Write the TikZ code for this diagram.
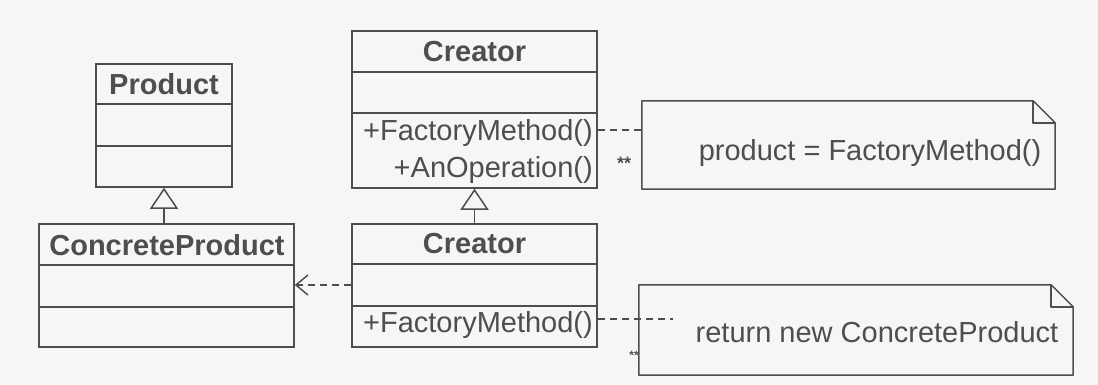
\documentclass[tikz,border=0pt]{standalone}
\usepackage{fontspec}
\setmainfont{Liberation Sans}
\usetikzlibrary{arrows.meta}
\definecolor{ink}{HTML}{4E4E4E}
\definecolor{bg}{HTML}{F6F6F4}
\begin{document}
\begin{tikzpicture}[x=1pt,y=-1pt,
  ln/.style={draw=ink, line width=1.5pt},
  cls/.style={ln, rectangle, inner sep=0pt, minimum width=#1},
  notebox/.style={rectangle, draw=none, inner sep=0pt, minimum width=#1},
  title/.style={text=ink, font=\fontsize{29pt}{34pt}\selectfont\bfseries, inner sep=0pt},
  op/.style={text=ink, font=\fontsize{29pt}{34pt}\selectfont, inner sep=0pt, anchor=east},
  ntxt/.style={text=ink, font=\fontsize{29pt}{34pt}\selectfont, inner sep=0pt},
  star/.style={text=ink, font=\fontsize{#1}{#1}\selectfont\bfseries, inner sep=0pt},
  gen/.style={ln, -{Triangle[open, length=21pt, width=28pt, line width=1.5pt]}},
  dep/.style={draw=ink, line width=1.5pt, dash pattern=on 7pt off 5pt, -{Straight Barb[length=12pt, width=20pt, line width=1.5pt]}},
  dsh/.style={draw=ink, line width=1.5pt, dash pattern=on 7pt off 5pt}
]
\fill[bg] (0,0) rectangle (1098,385);
\useasboundingbox (0,0) rectangle (1098,385);

% Product
\node[cls=136pt, minimum height=123pt] (product) at (164,125.5) {};
\draw[ln] (product.west |- 0,104) -- (product.east |- 0,104);
\draw[ln] (product.west |- 0,146) -- (product.east |- 0,146);
\node[title] (ptitle) at (164,84) {Product};

% ConcreteProduct
\node[cls=255pt, minimum height=123pt] (concrete) at (166.5,285.5) {};
\draw[ln] (concrete.west |- 0,265) -- (concrete.east |- 0,265);
\draw[ln] (concrete.west |- 0,307) -- (concrete.east |- 0,307);
\node[title] (cptitle) at (167,245) {ConcreteProduct};

% Creator (top)
\node[cls=245pt, minimum height=157pt] (creatorA) at (474.5,109.5) {};
\draw[ln] (creatorA.west |- 0,72) -- (creatorA.east |- 0,72);
\draw[ln] (creatorA.west |- 0,113) -- (creatorA.east |- 0,113);
\node[title] (catitle) at (474.5,52) {Creator};
\node[op] (fmA) at (593,133) {+FactoryMethod()};
\node[op] (aop) at (593,170) {+AnOperation()};

% Creator (bottom)
\node[cls=245pt, minimum height=123pt] (creatorB) at (474.5,285.5) {};
\draw[ln] (creatorB.west |- 0,264) -- (creatorB.east |- 0,264);
\draw[ln] (creatorB.west |- 0,306) -- (creatorB.east |- 0,306);
\node[title] (cbtitle) at (474.5,244) {Creator};
\node[op] (fmB) at (593,325) {+FactoryMethod()};

% Notes
\node[notebox=413pt, minimum height=88pt] (note1) at (848.5,145) {};
\draw[ln, line join=round] (note1.north west) -- ([xshift=-22pt]note1.north east) -- ([yshift=-22pt]note1.north east) -- (note1.south east) -- (note1.south west) -- cycle;
\draw[ln, line join=round] ([xshift=-22pt]note1.north east) -- ([xshift=-22pt,yshift=-22pt]note1.north east) -- ([yshift=-22pt]note1.north east);
\node[ntxt] (n1txt) at (870,153) {product = FactoryMethod()};

\node[notebox=434pt, minimum height=90pt] (note2) at (856,330) {};
\draw[ln, line join=round] (note2.north west) -- ([xshift=-22pt]note2.north east) -- ([yshift=-22pt]note2.north east) -- (note2.south east) -- (note2.south west) -- cycle;
\draw[ln, line join=round] ([xshift=-22pt]note2.north east) -- ([xshift=-22pt,yshift=-22pt]note2.north east) -- ([yshift=-22pt]note2.north east);
\node[ntxt] (n2txt) at (877,332) {return new ConcreteProduct};

% Connectors
\draw[gen] (product.south |- concrete.north) -- (product.south);
\draw[gen] (creatorB.north) -- (creatorA.south);
\draw[dep] (creatorB.west |- 0,285) -- (concrete.east |- 0,285);
\draw[dsh] (creatorA.east |- 0,130) -- (note1.west |- 0,130);
\coordinate (n2end) at (673,319);
\draw[dsh] (creatorB.east |- n2end) -- (n2end);

\node[star=18pt] (s1) at (624,163) {**};
\node[star=12pt] (s2) at (634,355) {**};
\end{tikzpicture}
\end{document}
